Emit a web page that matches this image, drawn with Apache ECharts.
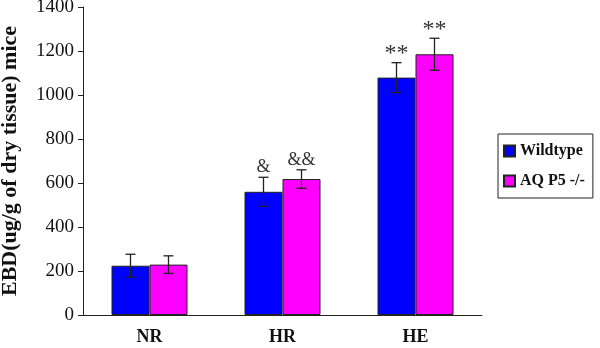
<!DOCTYPE html>
<html>
<head>
<meta charset="utf-8">
<script src="https://cdn.jsdelivr.net/npm/echarts@6/dist/echarts.min.js"></script>
<style>
  html, body { margin: 0; padding: 0; background: #fff; }
  #chart { width: 600px; height: 348px; }
</style>
</head>
<body>
<div id="chart"></div>
<script>
var groups = ['NR', 'HR', 'HE'];
var wildtype = [224, 560, 1079];
var wildtypeErr = [52, 66, 68];
var aqp5 = [229, 618, 1185];
var aqp5Err = [40, 42, 73];
var wildtypeMarks = ['', '&', '**'];
var aqp5Marks = ['', '&&', '**'];

var chart = echarts.init(document.getElementById('chart'));
var serif = '"Liberation Serif", "DejaVu Serif", serif';

// error bar + significance mark, drawn at the bar's position
function errorSeries(name, values, errs, marks, idx) {
  var data = values.map(function (v, i) { return [i, v, errs[i], marks[i]]; });
  return {
    name: name + ' err',
    type: 'custom',
    z: 10,
    data: data,
    renderItem: function (params, api) {
      var x = api.value(0), v = api.value(1), e = api.value(2);
      var mark = data[params.dataIndex][3];
      var base = api.coord([x, v]);
      var px = base[0] + (idx === 0 ? -19 : 19);
      var top = api.coord([x, v + e])[1];
      var bot = api.coord([x, v - e])[1];
      var st = { stroke: '#222', lineWidth: 1.3 };
      var kids = [
        { type: 'line', shape: { x1: px, y1: top, x2: px, y2: bot }, style: st },
        { type: 'line', shape: { x1: px - 5, y1: top, x2: px + 5, y2: top }, style: st },
        { type: 'line', shape: { x1: px - 5, y1: bot, x2: px + 5, y2: bot }, style: st }
      ];
      if (mark) {
        kids.push({
          type: 'text',
          style: {
            text: mark, x: px, y: mark === '**' ? top + 3 : top - 1,
            align: 'center', verticalAlign: 'bottom',
            font: (mark === '**' ? '24px ' : '18px ') + serif, fill: '#333'
          }
        });
      }
      return { type: 'group', children: kids };
    }
  };
}

chart.setOption({
  animation: false,
  grid: { left: 83, right: 118, top: 7, bottom: 33, containLabel: false, outerBoundsMode: 'none' },
  legend: {
    data: ['Wildtype', 'AQP5 -/-'],
    orient: 'vertical',
    left: 498, top: 134,
    itemWidth: 11, itemHeight: 11, itemGap: 14,
    padding: [9, 8, 9, 5],
    borderColor: '#222', borderWidth: 1,
    icon: 'rect',
    textStyle: { fontFamily: serif, fontWeight: 'bold', fontSize: 16, color: '#111' },
    formatter: function (n) { return n === 'AQP5 -/-' ? 'AQ P5 -/-' : n; }
  },
  xAxis: {
    type: 'category',
    data: groups,
    axisLine: { lineStyle: { color: '#222', width: 1 } },
    axisTick: { length: 5, lineStyle: { color: '#222' } },
    axisLabel: { fontFamily: serif, fontWeight: 'bold', fontSize: 18, color: '#111', margin: 13 }
  },
  yAxis: {
    type: 'value',
    min: 0, max: 1400, interval: 200,
    name: 'EBD(ug/g of dry tissue) mice',
    nameLocation: 'middle',
    nameGap: 62,
    nameTextStyle: { fontFamily: serif, fontWeight: 'bold', fontSize: 22, color: '#111' },
    splitLine: { show: false },
    axisLine: { show: true, lineStyle: { color: '#222', width: 1 } },
    axisTick: { show: true, length: 5, lineStyle: { color: '#222' } },
    axisLabel: { fontFamily: serif, fontSize: 19, color: '#111', margin: 9,
      formatter: function (v) { return String(v); } }
  },
  series: [
    {
      name: 'Wildtype', type: 'bar', data: wildtype,
      barWidth: 38, barGap: '0%',
      itemStyle: { color: '#0000FF', borderColor: '#222', borderWidth: 1 }
    },
    {
      name: 'AQP5 -/-', type: 'bar', data: aqp5,
      barWidth: 38, barGap: '0%',
      itemStyle: { color: '#FF00FF', borderColor: '#222', borderWidth: 1 }
    },
    errorSeries('Wildtype', wildtype, wildtypeErr, wildtypeMarks, 0),
    errorSeries('AQP5 -/-', aqp5, aqp5Err, aqp5Marks, 1)
  ]
});
</script>
</body>
</html>
